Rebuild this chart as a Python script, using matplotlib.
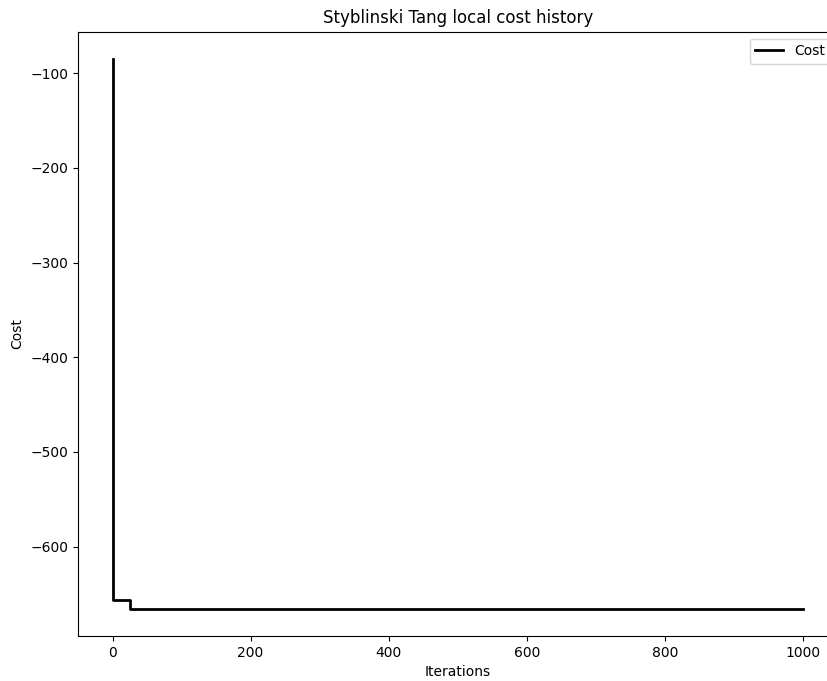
import matplotlib
matplotlib.use("Agg")
import matplotlib.pyplot as plt

# Cost history: iteration at which each level starts, and the level reached
iterations = [0, 1, 26, 1000]
cost = [-85.0, -656.0, -665.5, -665.5]

fig = plt.figure(figsize=(8.28, 6.81), dpi=100)
ax = fig.add_axes([0.0942, 0.0661, 0.9173, 0.8874])

ax.plot(iterations, cost, drawstyle="steps-post", color="black", linewidth=2, label="Cost")
ax.set_title("Styblinski Tang local cost history")
ax.set_xlabel("Iterations")
ax.set_ylabel("Cost")
ax.legend(loc="upper right")

fig.savefig("out.png", dpi=100)
